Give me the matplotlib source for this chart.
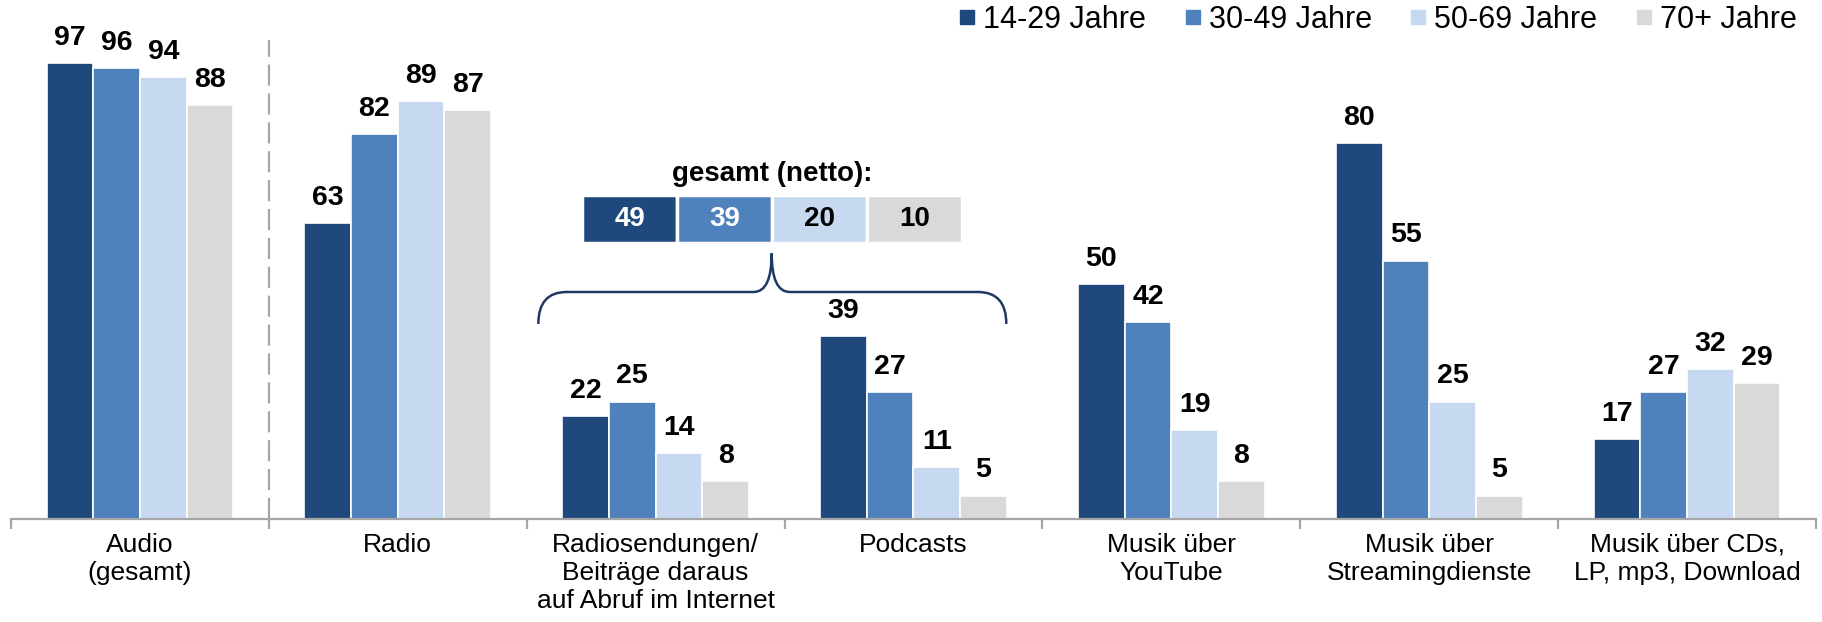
import matplotlib
matplotlib.use('Agg')
import matplotlib.pyplot as plt
import numpy as np
from matplotlib.path import Path
from matplotlib.patches import PathPatch
from matplotlib.lines import Line2D

plt.rcParams['font.family'] = ['Liberation Sans', 'DejaVu Sans']

# Daten
kategorien = ['Audio\n(gesamt)', 'Radio', 'Radiosendungen/\nBeiträge daraus\nauf Abruf im Internet',
              'Podcasts', 'Musik über\nYouTube', 'Musik über\nStreamingdienste',
              'Musik über CDs,\nLP, mp3, Download']
altersgruppen = ['14-29 Jahre', '30-49 Jahre', '50-69 Jahre', '70+ Jahre']
w_14_29 = [97, 63, 22, 39, 50, 80, 17]
w_30_49 = [96, 82, 25, 27, 42, 55, 27]
w_50_69 = [94, 89, 14, 11, 19, 25, 32]
w_70 = [88, 87, 8, 5, 8, 5, 29]
netto = [49, 39, 20, 10]

farben = ['#1f497d', '#4f81bd', '#c6d9f1', '#d9d9d9']
serien = [w_14_29, w_30_49, w_50_69, w_70]

W, H = 1822, 622
fig = plt.figure(figsize=(W / 100, H / 100), dpi=100)
# axes: x von 11px bis 1816px, Basislinie bei 519px, 4.68px pro Einheit
ymax = 110
ax = fig.add_axes([11 / W, (H - 519) / H, 1805 / W, ymax * 4.7 / H])
ax.set_xlim(0, 7)
ax.set_ylim(0, ymax)

bw = 0.181
x = np.arange(len(kategorien)) + 0.5
for k, (vals, col) in enumerate(zip(serien, farben)):
    pos = x + (k - 1.5) * bw
    ax.bar(pos, vals, width=bw, color=col, edgecolor='white', linewidth=1.2)
    for px, v in zip(pos, vals):
        ax.annotate(str(v), (px, v), xytext=(0, 13), textcoords='offset points',
                    ha='center', va='baseline', fontsize=20.5, fontweight='bold')

# Trennlinie
ax.plot([1, 1], [0, 102], color='#a6a6a6', lw=1.6, linestyle=(0, (9.5, 3.5)),
        clip_on=False)

# Achse
for s in ['top', 'right', 'left']:
    ax.spines[s].set_visible(False)
ax.spines['bottom'].set_color('#a6a6a6')
ax.spines['bottom'].set_linewidth(1.6)
ax.set_yticks([])
ax.set_xticks(x)
ax.set_xticklabels(kategorien, fontsize=19, linespacing=1.22)
ax.tick_params(axis='x', which='major', length=0, pad=10)
ax.set_xticks(np.arange(8), minor=True)
ax.tick_params(axis='x', which='minor', length=7, width=1.6, color='#a6a6a6', direction='out')

# gesamt (netto) Kasten
cell_w = 0.3685
box_x0 = 2.215
box_y0, box_h = 58.8, 10.2
cx = box_x0 + cell_w * (np.arange(4) + 0.5)
ax.bar(cx, [box_h] * 4, width=cell_w, bottom=box_y0, color=farben,
       edgecolor='white', linewidth=2.5, clip_on=False)
for c, v, k in zip(cx, netto, range(4)):
    ax.text(c, box_y0 + box_h / 2, str(v), ha='center', va='center', fontsize=20,
            fontweight='bold', color='white' if k < 2 else 'black')
ax.text(box_x0 + 2 * cell_w, 73.5, 'gesamt (netto):', ha='center', va='center',
        fontsize=20, fontweight='bold')

# Klammer
xl, xr, xp = 2.045, 3.86, 2.95
y_end, y_h, y_pk = 41.5, 48.3, 56.5
rx, rpx = 0.11, 0.07
verts = [(xl, y_end), (xl, y_h), (xl + rx, y_h),
         (xp - rpx, y_h), (xp, y_h), (xp, y_pk),
         (xp, y_h), (xp + rpx, y_h),
         (xr - rx, y_h), (xr, y_h), (xr, y_end)]
codes = [Path.MOVETO, Path.CURVE3, Path.CURVE3,
         Path.LINETO, Path.CURVE3, Path.CURVE3,
         Path.CURVE3, Path.CURVE3,
         Path.LINETO, Path.CURVE3, Path.CURVE3]
ax.add_patch(PathPatch(Path(verts, codes), facecolor='none', edgecolor='#1f3864',
                       lw=1.8, clip_on=False))

# Legende
handles = [Line2D([], [], marker='s', linestyle='none', markersize=9.5,
                  markerfacecolor=c, markeredgecolor=c) for c in farben]
fig.legend(handles, altersgruppen, loc='center right', bbox_to_anchor=(1797 / W, 1 - 20 / H),
           ncol=4, frameon=False, fontsize=22, handlelength=0.45, handletextpad=0.3,
           columnspacing=1.3, borderpad=0, borderaxespad=0)

fig.savefig('out.png', dpi=100)
